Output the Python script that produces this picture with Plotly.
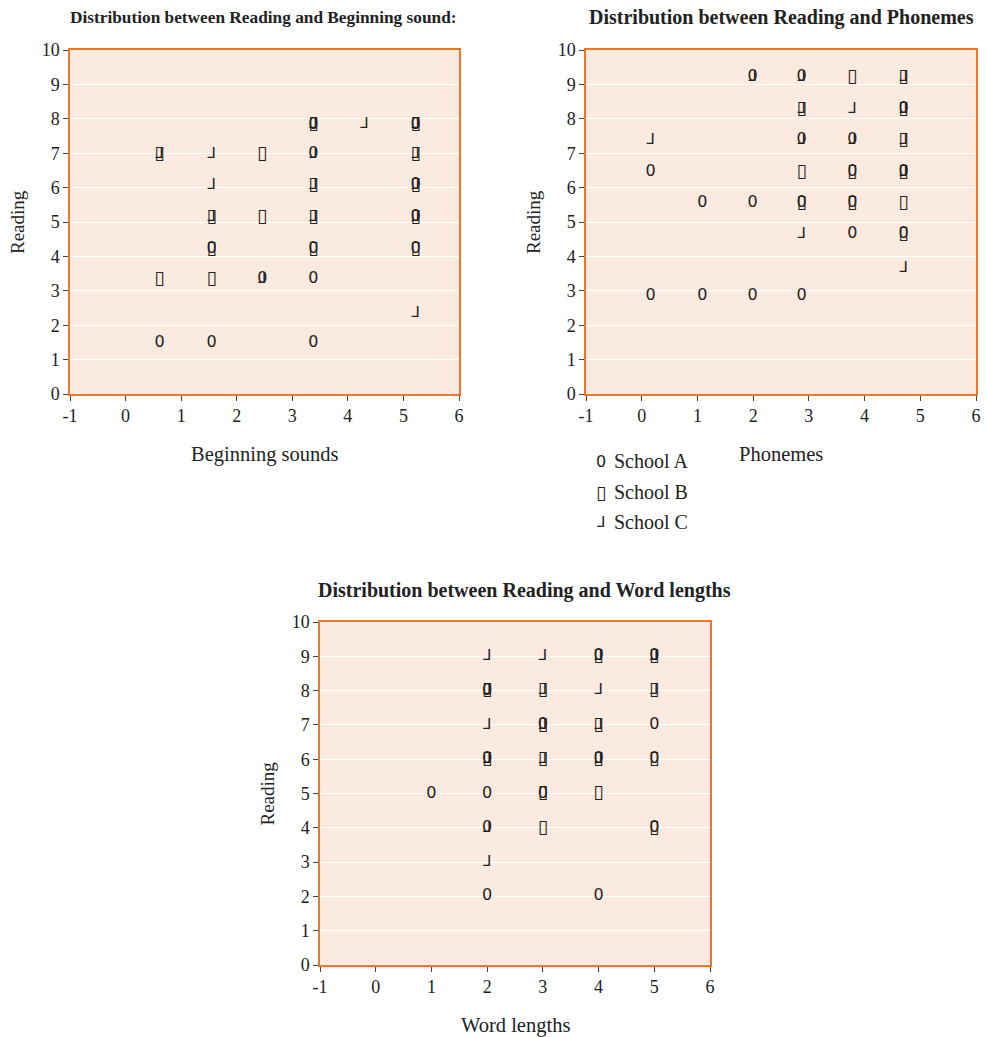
import plotly.graph_objects as go

# ---------------- data ----------------
# Plot 1: Reading vs Beginning sounds
bs_a_x = [0.61, 1.55, 3.38, 2.46, 3.38, 1.55, 3.38, 5.22, 5.22, 5.22, 3.38, 3.38, 5.22]
bs_a_y = [1.48, 1.48, 1.48, 3.34, 3.34, 4.21, 4.21, 4.21, 5.14, 6.07, 6.98, 7.83, 7.83]
bs_b_x = [0.61, 1.55, 1.55, 3.38, 5.22, 1.55, 2.46, 3.38, 5.22, 3.38, 5.22, 0.61, 2.46, 5.22, 3.38, 5.22]
bs_b_y = [3.34, 3.34, 4.21, 4.21, 4.21, 5.14, 5.14, 5.14, 5.14, 6.07, 6.07, 6.98, 6.98, 6.98, 7.83, 7.83]
bs_c_x = [5.22, 2.46, 1.55, 3.38, 5.22, 1.55, 3.38, 5.22, 0.61, 1.55, 3.38, 5.22, 3.38, 4.30, 5.22]
bs_c_y = [2.36, 3.34, 5.14, 5.14, 5.14, 6.07, 6.07, 6.07, 6.98, 6.98, 6.98, 6.98, 7.83, 7.83, 7.83]

# Plot 2: Reading vs Phonemes
ph_a_x = [0.16, 1.09, 1.99, 2.87, 3.78, 4.70, 1.09, 1.99, 2.87, 3.78, 0.16, 3.78, 4.70, 2.87, 3.78, 4.70, 1.99, 2.87]
ph_a_y = [2.84, 2.84, 2.84, 2.84, 4.65, 4.65, 5.55, 5.55, 5.55, 5.55, 6.45, 6.45, 6.45, 7.37, 7.37, 8.28, 9.22, 9.22]
ph_b_x = [4.70, 2.87, 3.78, 4.70, 2.87, 3.78, 4.70, 4.70, 2.87, 4.70, 3.78, 4.70]
ph_b_y = [4.65, 5.55, 5.55, 5.55, 6.45, 6.45, 6.45, 7.37, 8.28, 8.28, 9.22, 9.22]
ph_c_x = [4.70, 2.87, 4.70, 0.16, 2.87, 3.78, 4.70, 2.87, 3.78, 4.70, 1.99, 2.87, 4.70]
ph_c_y = [3.65, 4.65, 6.45, 7.37, 7.37, 7.37, 7.37, 8.28, 8.28, 8.28, 9.22, 9.22, 9.22]

# Plot 3: Reading vs Word lengths
wl_a_x = [2, 4, 2, 5, 1, 2, 3, 2, 4, 5, 3, 5, 2, 4, 5]
wl_a_y = [2, 2, 4, 4, 5, 5, 5, 6, 6, 6, 7, 7, 8, 9, 9]
wl_b_x = [3, 5, 3, 4, 2, 3, 4, 5, 3, 4, 2, 3, 5, 4, 5]
wl_b_y = [4, 4, 5, 5, 6, 6, 6, 6, 7, 7, 8, 8, 8, 9, 9]
wl_c_x = [2, 2, 2, 3, 4, 2, 3, 4, 2, 3, 4, 5, 2, 3, 4, 5]
wl_c_y = [3, 4, 6, 6, 6, 7, 7, 7, 8, 8, 8, 8, 9, 9, 9, 9]

schools = ["School A", "School B", "School C"]
glyphs = ["0", "\u25AF", "\u2143"]

x_ticks = [-1, 0, 1, 2, 3, 4, 5, 6]
x_tick_labels = ["-1", "0", "1", "2", "3", "4", "5", "6"]
y_ticks = [0, 1, 2, 3, 4, 5, 6, 7, 8, 9, 10]

titles = ["Distribution between Reading and Beginning sound:",
          "Distribution between Reading and Phonemes",
          "Distribution between Reading and Word lengths"]
x_titles = ["Beginning sounds", "Phonemes", "Word lengths"]
y_title = "Reading"

# ---------------- styling ----------------
W, H = 986, 1037
SERIF = "Liberation Serif"
TXT = "#222222"
BG = "#FBEADF"
BORDER = "#E8782E"

boxes = [(70, 50, 459, 394), (586, 50, 976, 394), (320, 622, 710, 965)]
title_pos = [(263.5, 17), (781.5, 17), (524.5, 590)]
title_sizes = [17.3, 20, 20]
glyph_fonts = [("DejaVu Sans", 16), ("DejaVu Sans", 19), ("DejaVu Sans", 15)]


def px(x):
    return x / W


def py(y):
    return 1 - y / H


fig = go.Figure()

datasets = [
    [(bs_a_x, bs_a_y), (bs_b_x, bs_b_y), (bs_c_x, bs_c_y)],
    [(ph_a_x, ph_a_y), (ph_b_x, ph_b_y), (ph_c_x, ph_c_y)],
    [(wl_a_x, wl_a_y), (wl_b_x, wl_b_y), (wl_c_x, wl_c_y)],
]

layout = dict(
    width=W, height=H,
    margin=dict(l=0, r=0, t=0, b=0, autoexpand=False),
    paper_bgcolor="white",
    plot_bgcolor=BG,
    showlegend=False,
    font=dict(family=SERIF, color=TXT, size=18),
)

annotations = []
for i, (box, data) in enumerate(zip(boxes, datasets)):
    n = "" if i == 0 else str(i + 1)
    xa, ya = "x" + n, "y" + n
    for s, (xs, ys) in enumerate(data):
        fam, size = glyph_fonts[s]
        fig.add_trace(go.Scatter(
            x=xs, y=ys, mode="text", text=[glyphs[s]] * len(xs),
            textposition="middle center",
            textfont=dict(family=fam, size=size, color=TXT),
            name=schools[s], xaxis=xa, yaxis=ya, hoverinfo="x+y+name",
        ))
    l, t, r, b = box
    layout["xaxis" + n] = dict(
        domain=[px(l), px(r)], range=[-1, 6], anchor=ya, automargin=False,
        tickvals=x_ticks, ticktext=x_tick_labels,
        ticks="outside", ticklen=5, tickcolor="#444",
        showgrid=False, zeroline=False,
        showline=True, linecolor=BORDER, linewidth=1.5, mirror=True,
        tickfont=dict(family=SERIF, size=18, color=TXT),
    )
    layout["yaxis" + n] = dict(
        domain=[py(b), py(t)], range=[0, 10], anchor=xa, automargin=False,
        tickvals=y_ticks, ticks="outside", ticklen=5, tickcolor="#444",
        showgrid=True, gridcolor="white", gridwidth=1, zeroline=False,
        showline=True, linecolor=BORDER, linewidth=1.5, mirror=True,
        tickfont=dict(family=SERIF, size=18, color=TXT),
    )
    tx, ty = title_pos[i]
    annotations.append(dict(
        x=px(tx), y=py(ty), xref="paper", yref="paper",
        text="<b>" + titles[i] + "</b>", showarrow=False,
        xanchor="center", yanchor="middle",
        font=dict(family=SERIF, size=title_sizes[i], color=TXT),
    ))
    annotations.append(dict(
        x=px((l + r) / 2), y=py(b + 60), xref="paper", yref="paper",
        text=x_titles[i], showarrow=False, xanchor="center", yanchor="middle",
        font=dict(family=SERIF, size=20.5, color=TXT),
    ))
    annotations.append(dict(
        x=px(l - 53), y=py((t + b) / 2), xref="paper", yref="paper",
        text=y_title, showarrow=False, textangle=-90,
        xanchor="center", yanchor="middle",
        font=dict(family=SERIF, size=19, color=TXT),
    ))

for k, (name, g) in enumerate(zip(schools, glyphs)):
    yy = 461 + k * 30.5
    fam, size = glyph_fonts[k]
    annotations.append(dict(
        x=px(601), y=py(yy), xref="paper", yref="paper", text=g, showarrow=False,
        xanchor="center", yanchor="middle",
        font=dict(family=fam, size=size, color=TXT),
    ))
    annotations.append(dict(
        x=px(612), y=py(yy), xref="paper", yref="paper", text=name, showarrow=False,
        xanchor="left", yanchor="middle",
        font=dict(family=SERIF, size=20, color=TXT),
    ))

layout["annotations"] = annotations
fig.update_layout(**layout)
fig.write_html("out.html", post_script="document.body.style.margin='0';",
               config={"displayModeBar": False})
